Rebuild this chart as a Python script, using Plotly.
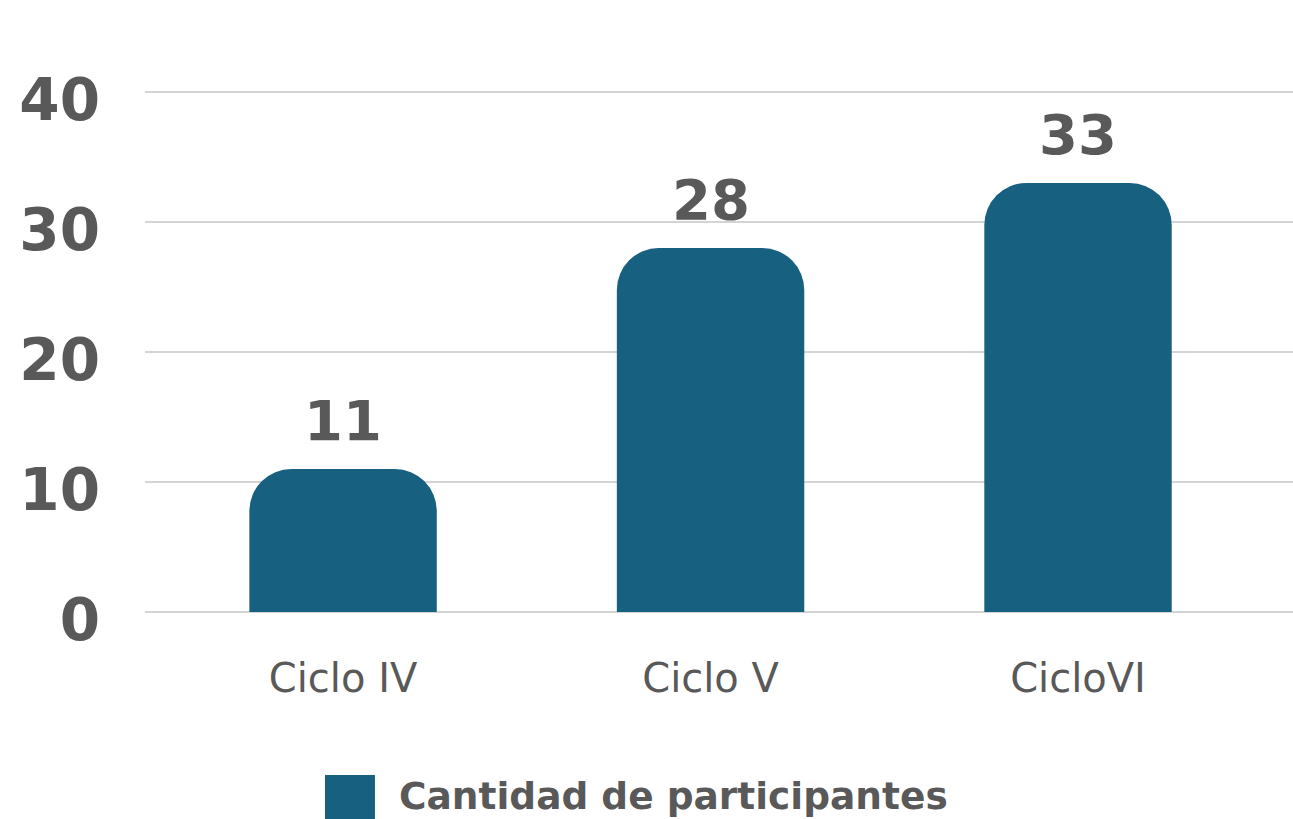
import plotly.graph_objects as go

categories = ["Ciclo IV", "Ciclo V", "CicloVI"]
values = [11, 28, 33]
series_name = "Cantidad de participantes"
y_ticks = [0, 10, 20, 30, 40]

BAR = "#17607F"
TXT = "#595959"
GRID = "#D4D4D4"
FONT = "DejaVu Sans"

fig = go.Figure()
fig.add_trace(go.Bar(
    x=categories, y=values, name=series_name,
    marker=dict(color=BAR, cornerradius=42, line=dict(width=0)),
    width=0.51, showlegend=False, hoverinfo="skip",
))

for c, v in zip(categories, values):
    fig.add_annotation(x=c, y=v, text=str(v), showarrow=False,
                       yanchor="bottom", yshift=14,
                       font=dict(family=FONT, size=56, color=TXT, weight="bold"))

# legend (custom, large square)
fig.add_shape(type="rect", xref="paper", yref="paper",
              x0=0.1568, x1=0.2003, y0=-0.37, y1=-0.285,
              fillcolor=BAR, line=dict(width=0))
fig.add_annotation(xref="paper", yref="paper", x=0.2204, y=-0.3619,
                   xanchor="left", yanchor="bottom", showarrow=False,
                   text=series_name, borderpad=0,
                   font=dict(family=FONT, size=37.5, color=TXT, weight="bold"))

fig.update_layout(
    width=1293, height=819,
    margin=dict(l=145, r=0, t=40, b=207),
    paper_bgcolor="white", plot_bgcolor="white",
    font=dict(family=FONT, color=TXT),
)
fig.update_xaxes(
    range=[-0.539, 2.585], showgrid=False, showline=False, zeroline=False,
    ticks="", ticklabelstandoff=39, automargin=False,
    tickfont=dict(family=FONT, size=40, color=TXT),
)
fig.update_yaxes(
    range=[0, 44], tickvals=y_ticks, showgrid=True, gridcolor=GRID, gridwidth=2,
    zeroline=True, zerolinecolor=GRID, zerolinewidth=2, showline=False,
    ticks="", ticklabelstandoff=44, ticklabelshift=8, automargin=False,
    tickfont=dict(family=FONT, size=58, color=TXT, weight="bold"),
)

fig.write_html("out.html",
               config={"displayModeBar": False},
               post_script="document.body.style.margin='0';document.body.style.overflow='hidden';")
